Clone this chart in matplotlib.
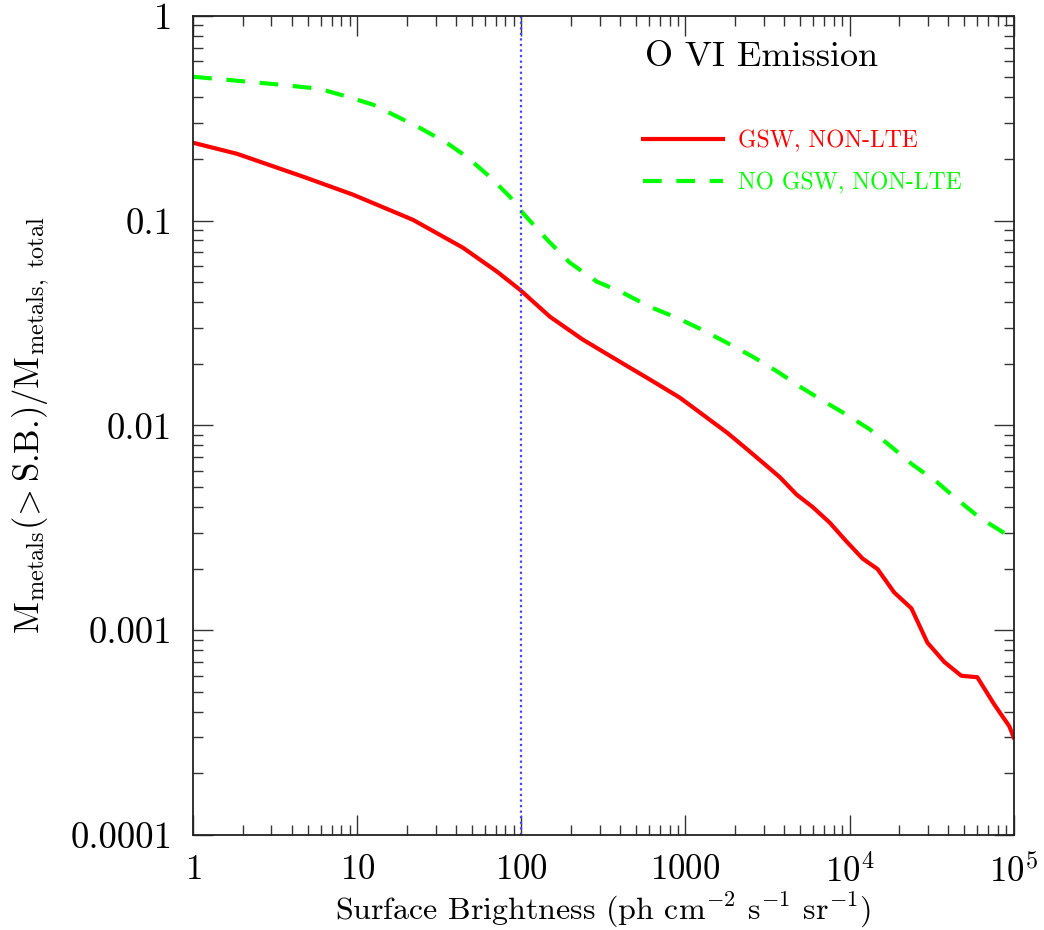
import matplotlib
matplotlib.use("Agg")
import matplotlib.pyplot as plt
from matplotlib.ticker import FixedLocator, FixedFormatter, LogLocator, NullFormatter

plt.rcParams['font.family'] = ['cmr10', 'DejaVu Serif']
plt.rcParams['mathtext.fontset'] = 'cm'
plt.rcParams['axes.unicode_minus'] = False
plt.rcParams['axes.formatter.use_mathtext'] = True

# GSW, NON-LTE (red, solid)
sb_gsw = [1, 1.85, 4.67, 9.4, 21.8, 44, 71, 98, 149, 236, 397, 604, 920, 1219,
          1800, 2350, 2950, 3750, 4750, 5950, 7550, 9550, 12000, 14800, 18700,
          23800, 29800, 37800, 47900, 60000, 76000, 94000, 100000]
frac_gsw = [0.240, 0.212, 0.164, 0.134, 0.101, 0.0738, 0.0564, 0.046, 0.034, 0.0263,
            0.0205, 0.0168, 0.0137, 0.0116, 0.0092, 0.0077, 0.0066, 0.0056, 0.0046,
            0.0040, 0.00336, 0.00272, 0.00224, 0.00199, 0.00153, 0.00128, 0.00087,
            0.00070, 0.00060, 0.00059, 0.000435, 0.00034, 0.00030]

# NO GSW, NON-LTE (green, dashed)
sb_nogsw = [1, 1.85, 3.4, 5.9, 8.7, 12.5, 17.5, 24, 35, 46.5, 64, 85, 102, 143, 197,
            288, 414, 604, 883, 1254, 1778, 2560, 3640, 5090, 7230, 9560, 13200,
            18200, 24100, 33700, 45300, 61600, 96600, 100000]
frac_nogsw = [0.504, 0.482, 0.461, 0.44, 0.403, 0.368, 0.322, 0.284, 0.24, 0.205,
              0.164, 0.131, 0.109, 0.081, 0.0624, 0.0504, 0.0445, 0.038, 0.0336,
              0.0294, 0.0254, 0.0217, 0.0183, 0.0153, 0.0129, 0.0113, 0.0096,
              0.0078, 0.00645, 0.00533, 0.00435, 0.00356, 0.00284, 0.0027]

sb_limit = 100

x_ticks = [1, 10, 100, 1000, 1e4, 1e5]
x_ticklabels = [r'$1$', r'$10$', r'$100$', r'$1000$', r'$10^4$', r'$10^5$']
y_ticks = [1e-4, 1e-3, 1e-2, 1e-1, 1]
y_ticklabels = ['0.0001', '0.001', '0.01', '0.1', '1']

fig = plt.figure(figsize=(10.44, 9.30), dpi=100)
ax = fig.add_axes([0.185, 0.102, 0.786, 0.881])

ax.plot(sb_gsw, frac_gsw, color='#ff0000', lw=3.0, label='GSW, NON-LTE')
ax.plot(sb_nogsw, frac_nogsw, color='#00ff00', lw=3.0, dashes=(4.5, 3.5),
        label='NO GSW, NON-LTE')
ax.axvline(sb_limit, color='#4444ff', lw=1.6, dashes=(1.0, 1.5))

ax.set_xscale('log')
ax.set_yscale('log')
ax.set_xlim(1, 1e5)
ax.set_ylim(1e-4, 1)

ax.xaxis.set_major_locator(FixedLocator(x_ticks))
ax.xaxis.set_major_formatter(FixedFormatter(x_ticklabels))
ax.yaxis.set_major_locator(FixedLocator(y_ticks))
ax.yaxis.set_major_formatter(FixedFormatter(y_ticklabels))
for axis in (ax.xaxis, ax.yaxis):
    axis.set_minor_locator(LogLocator(base=10, subs=range(2, 10), numticks=20))
    axis.set_minor_formatter(NullFormatter())

ax.tick_params(which='both', direction='in', top=True, right=True,
               color='#333333', width=1.0, labelsize=26.5)
ax.tick_params(axis='x', which='major', labelsize=25, pad=14)
ax.tick_params(which='major', length=14.5)
ax.tick_params(which='minor', length=7.2)
ax.tick_params(axis='y', which='major', pad=15)
for s in ax.spines.values():
    s.set_linewidth(1.3)
    s.set_color('#222222')

ax.set_xlabel(r'Surface Brightness (ph cm$^{-2}$ s$^{-1}$ sr$^{-1}$)', fontsize=23)
ax.set_ylabel(r'M$_{\rm metals}$($\!{>}$S.B.)/M$_{\rm metals,\ total}$', fontsize=25)
ax.xaxis.set_label_coords(0.5, -0.068)
ax.yaxis.set_label_coords(-0.172, 0.5)

ax.text(0.551, 0.950, 'O VI Emission', transform=ax.transAxes, fontsize=26,
        ha='left', va='center')

leg = ax.legend(loc='upper left', bbox_to_anchor=(0.548, 0.860), frameon=False,
                fontsize=17, handlelength=3.4, handletextpad=0.65,
                labelspacing=0.8, borderpad=0, borderaxespad=0,
                labelcolor='linecolor')

fig.savefig('out.png', dpi=100)
